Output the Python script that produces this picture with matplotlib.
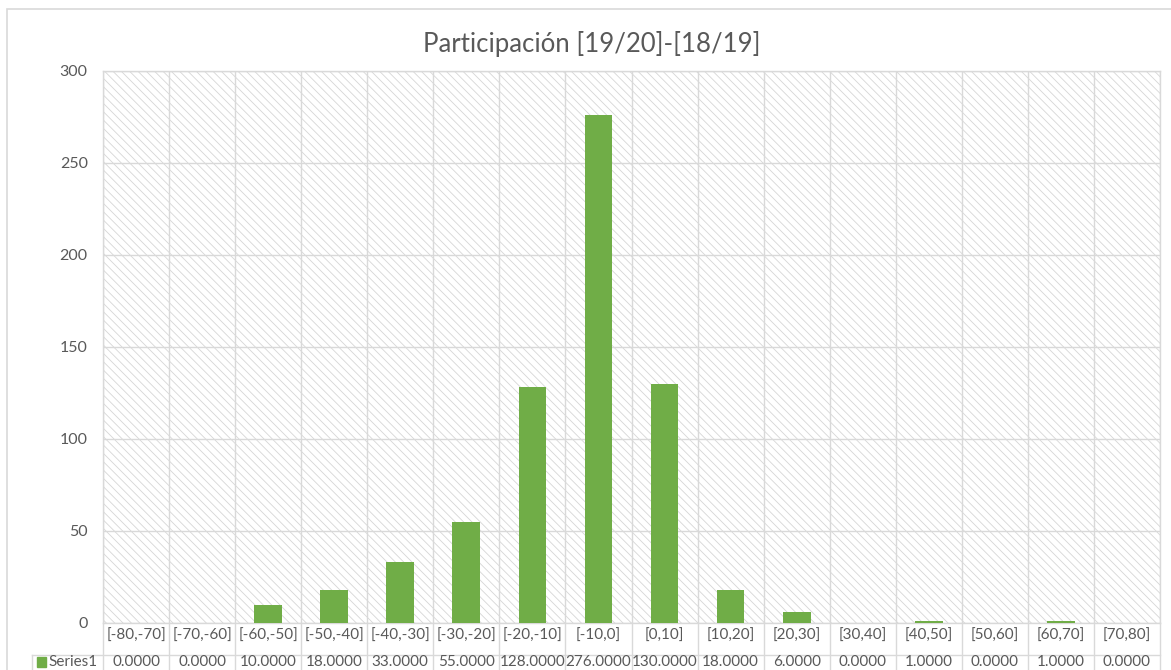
import numpy as np
import matplotlib.pyplot as plt
from matplotlib.patches import Rectangle
from matplotlib.lines import Line2D
import matplotlib.transforms as mtransforms

plt.rcParams['font.family'] = ['Lato', 'DejaVu Sans']
plt.rcParams['hatch.linewidth'] = 0.6

# DATA
categories = ['[-80,-70]', '[-70,-60]', '[-60,-50]', '[-50,-40]', '[-40,-30]',
              '[-30,-20]', '[-20,-10]', '[-10,0]', '[0,10]', '[10,20]',
              '[20,30]', '[30,40]', '[40,50]', '[50,60]', '[60,70]', '[70,80]']
series1 = [0, 0, 10, 18, 33, 55, 128, 276, 130, 18, 6, 0, 1, 0, 1, 0]
series_name = 'Series1'
title = 'Participación [19/20]-[18/19]'

W, H = 1171, 670
grid_c = '#d9d9d9'
text_c = '#595959'
green = '#70ad47'

def fx(x):
    return x / W

def fy(y):
    return 1 - y / H

fig = plt.figure(figsize=(W / 100, H / 100), dpi=100)

# outer chart border
fig.patches.append(Rectangle((fx(7), fy(700)), fx(1200), fy(9) - fy(700),
                             transform=fig.transFigure, fill=False,
                             edgecolor=grid_c, linewidth=1.2))

L, R, T, B = 103, 1160, 71, 623
ax = fig.add_axes([fx(L), fy(B), fx(R) - fx(L), fy(T) - fy(B)])
ax.patch.set_facecolor('white')
ax.patch.set_hatch('\\\\\\\\')
ax.patch.set_edgecolor('#d6d6d6')
ax.patch.set_linewidth(0)

x = np.arange(len(categories))
ax.bar(x, series1, width=0.42, color=green, zorder=3)

ax.set_xlim(-0.5, len(categories) - 0.5)
ax.set_ylim(0, 300)
ax.set_yticks(range(0, 301, 50))
ax.set_xticks(np.arange(-0.5, len(categories), 1.0))
ax.set_xticklabels([])
ax.tick_params(length=0, labelsize=11.5, labelcolor=text_c, pad=11)
ax.set_axisbelow(True)
ax.grid(True, color=grid_c, linewidth=1)
for s in ax.spines.values():
    s.set_color(grid_c)
    s.set_linewidth(1)

fig.text(fx(592), fy(44), title, ha='center', va='center',
         fontsize=18.5, color=text_c)

# data table below the axis
tr = mtransforms.blended_transform_factory(ax.transData, fig.transFigure)
for i, (c, v) in enumerate(zip(categories, series1)):
    fig.text(i, fy(636), c, transform=tr, ha='center', va='center',
             fontsize=11, color=text_c)
    fig.text(i, fy(662), f'{v:.4f}', transform=tr, ha='center', va='center',
             fontsize=11, color=text_c)
for i in range(len(categories) + 1):
    fig.lines.append(Line2D([i - 0.5, i - 0.5], [fy(B), fy(680)], transform=tr,
                            color=grid_c, linewidth=1))
fig.lines.append(Line2D([fx(32), fx(R)], [fy(655), fy(655)],
                        transform=fig.transFigure, color=grid_c, linewidth=1))
fig.lines.append(Line2D([fx(32), fx(32)], [fy(655), fy(680)],
                        transform=fig.transFigure, color=grid_c, linewidth=1))
fig.patches.append(Rectangle((fx(37), fy(667)), fx(9), fy(657) - fy(667),
                             transform=fig.transFigure, color=green))
fig.text(fx(48), fy(662), series_name, ha='left', va='center',
         fontsize=11, color=text_c)

fig.savefig('out.png', dpi=100)
